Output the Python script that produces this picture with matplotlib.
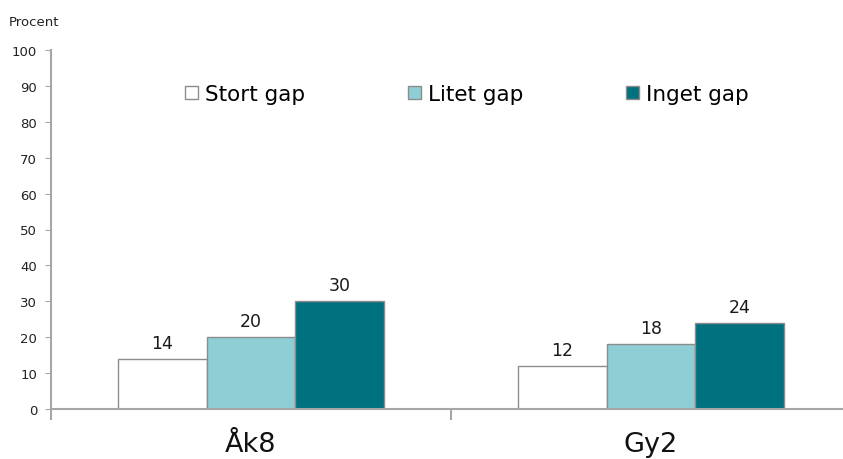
import matplotlib.pyplot as plt
import matplotlib.transforms as mtransforms
import numpy as np

categories = ['Åk8', 'Gy2']
series_names = ['Stort gap', 'Litet gap', 'Inget gap']
stort_gap = [14, 12]
litet_gap = [20, 18]
inget_gap = [30, 24]
yticks = [0, 10, 20, 30, 40, 50, 60, 70, 80, 90, 100]

colors = ['#FFFFFF', '#8ECFD6', '#00717F']
edge = '#8C8C8C'
axis_col = '#A6A6A6'

plt.rcParams['font.family'] = ['DejaVu Sans']

fig = plt.figure(figsize=(8.43, 4.6), dpi=100)
ax = fig.add_axes([51 / 843, 50 / 460, 800 / 843, 359 / 460])

x = np.arange(len(categories)) + 0.5
width = 0.222
for i, (name, vals) in enumerate(zip(series_names, [stort_gap, litet_gap, inget_gap])):
    bars = ax.bar(x + (i - 1) * width, vals, width, color=colors[i],
                  edgecolor=edge, linewidth=1.0, label=name, zorder=2)
    ax.bar_label(bars, padding=5, fontsize=12.5, color='#1a1a1a')

ax.set_xlim(0, 2)
ax.set_ylim(0, 100)
ax.set_yticks(yticks)
ax.tick_params(axis='y', labelsize=9.5, length=4, color=axis_col, pad=6, labelcolor='#222222')

# category labels, placed on a common baseline near the bottom edge
ax.set_xticks([0, 1, 2])
ax.set_xticklabels([])
ax.tick_params(axis='x', length=8, color=axis_col, width=1.5)
trans = mtransforms.blended_transform_factory(ax.transData, fig.transFigure)
for xi, cat in zip(x, categories):
    ax.text(xi, 7.5 / 460, cat, transform=trans, ha='center', va='baseline',
            fontsize=19.5, color='#111111')

for s in ['top', 'right']:
    ax.spines[s].set_visible(False)
for s in ['left', 'bottom']:
    ax.spines[s].set_color(axis_col)
    ax.spines[s].set_linewidth(1.5)

ax.legend(loc='center', bbox_to_anchor=(0.52, 0.877), ncol=3, frameon=False,
          fontsize=15.5, handlelength=0.6, handleheight=0.6, handletextpad=0.3,
          columnspacing=4.8)

fig.text(9 / 843, 1 - 23 / 460, 'Procent', fontsize=9.5, va='center', ha='left', color='#222222')

fig.savefig('out.png', dpi=100)
